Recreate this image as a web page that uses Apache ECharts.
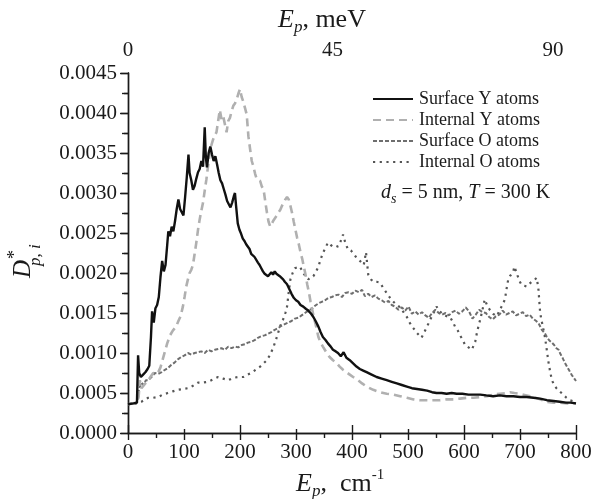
<!DOCTYPE html>
<html>
<head>
<meta charset="utf-8">
<script src="https://cdn.jsdelivr.net/npm/echarts@6/dist/echarts.min.js"></script>
<style>
  html, body { margin: 0; padding: 0; background: #fff; }
  #chart { width: 596px; height: 499px; }
</style>
</head>
<body>
<div id="chart"></div>
<script>
// Phonon energy grid (cm^-1) and partial densities of states D*_{p,i}

const surfYx = [0,10,16,18,20,23,27,31,35,38,41,43,46,49,52,55,58,61,64,67,70,72,75,78,81,84,87,90,93,96,99,102,105,108,110,113,116,119,122,125,128,131,134,137,139,141,144,147,150,153,156,159,162,165,168,171,174,177,180,183,186,189,191,193,196,199,202,205,208,211,214,217,220,223,226,229,232,235,238,241,244,247,250,253,256,259,262,265,268,271,274,277,280,284,288,292,296,300,304,308,313,318,322,327,331,335,340,344,348,353,357,362,366,371,375,380,385,390,396,402,408,414,420,426,435,444,453,462,471,480,489,498,507,516,525,534,543,551,560,569,578,587,597,608,618,629,640,652,664,676,688,700,712,724,736,748,760,771,782,790,800];
const surfYv = [0.00036,0.00037,0.00038,0.00097,0.00075,0.00070,0.00073,0.00076,0.00080,0.00084,0.00120,0.00152,0.00138,0.00156,0.00160,0.00170,0.00195,0.00215,0.00202,0.00210,0.00235,0.00252,0.00246,0.00258,0.00252,0.00265,0.00280,0.00292,0.00280,0.00276,0.00272,0.00295,0.00320,0.00348,0.00325,0.00316,0.00304,0.00309,0.00318,0.00326,0.00330,0.00340,0.00333,0.00382,0.00345,0.00332,0.00350,0.00358,0.00348,0.00340,0.00346,0.00336,0.00325,0.00316,0.00312,0.00305,0.00298,0.00290,0.00286,0.00282,0.00288,0.00296,0.00300,0.00284,0.00262,0.00254,0.00249,0.00243,0.00240,0.00236,0.00234,0.00230,0.00224,0.00226,0.00220,0.00218,0.00213,0.00210,0.00206,0.00202,0.00199,0.00197,0.00196,0.00198,0.00201,0.00198,0.00202,0.00199,0.00200,0.00196,0.00194,0.00192,0.00189,0.00186,0.00180,0.00174,0.00169,0.00166,0.00164,0.00160,0.00158,0.00155,0.00153,0.00149,0.00145,0.00140,0.00133,0.00126,0.00120,0.00116,0.00112,0.00108,0.00104,0.00102,0.00100,0.00096,0.00101,0.00094,0.00091,0.00087,0.00083,0.00080,0.00078,0.00076,0.00073,0.00070,0.00068,0.00066,0.00064,0.00062,0.00060,0.00058,0.00056,0.00055,0.00054,0.00053,0.00051,0.00050,0.00050,0.00049,0.00050,0.00049,0.00049,0.00048,0.00048,0.00048,0.00047,0.00046,0.00047,0.00046,0.00046,0.00045,0.00045,0.00044,0.00043,0.00041,0.00040,0.00039,0.00038,0.00038,0.00037];

const intYx = [0,16,19,21,24,27,31,36,40,45,50,54,58,62,66,70,75,80,86,90,94,98,101,104,107,110,113,116,119,122,125,128,131,134,137,140,143,146,149,152,155,158,161,164,167,170,173,176,179,182,185,188,191,194,197,200,203,206,209,212,215,218,221,224,227,230,233,236,239,242,245,248,251,254,257,260,263,266,269,272,275,278,281,284,287,290,293,296,299,302,305,308,311,314,317,320,323,326,329,332,335,340,344,348,354,360,366,372,378,384,390,396,402,411,418,426,438,450,462,474,486,498,510,521,533,545,557,569,581,593,605,617,629,641,652,664,676,682,690,700,712,724,736,748,760,771,785,800];
const intYv = [0.00036,0.00038,0.00045,0.00066,0.00056,0.00058,0.00062,0.00066,0.00070,0.00075,0.00074,0.00076,0.00082,0.00092,0.00102,0.00112,0.00122,0.00128,0.00133,0.00140,0.00146,0.00158,0.00170,0.00183,0.00192,0.00200,0.00204,0.00210,0.00224,0.00238,0.00254,0.00267,0.00278,0.00288,0.00303,0.00317,0.00334,0.00350,0.00360,0.00367,0.00372,0.00376,0.00390,0.00404,0.00392,0.00396,0.00386,0.00376,0.00390,0.00394,0.00402,0.00409,0.00412,0.00417,0.00424,0.00430,0.00420,0.00414,0.00406,0.00398,0.00371,0.00355,0.00340,0.00333,0.00324,0.00317,0.00319,0.00315,0.00308,0.00305,0.00290,0.00276,0.00264,0.00258,0.00262,0.00266,0.00269,0.00272,0.00276,0.00279,0.00284,0.00288,0.00292,0.00295,0.00292,0.00284,0.00275,0.00264,0.00254,0.00244,0.00236,0.00226,0.00218,0.00208,0.00198,0.00186,0.00176,0.00164,0.00154,0.00144,0.00136,0.00120,0.00113,0.00108,0.00101,0.00095,0.00091,0.00088,0.00083,0.00079,0.00076,0.00073,0.00070,0.00066,0.00062,0.00058,0.00054,0.00051,0.00049,0.00048,0.00046,0.00044,0.00042,0.00041,0.00041,0.00041,0.00041,0.00042,0.00042,0.00043,0.00044,0.00044,0.00045,0.00046,0.00048,0.00049,0.00050,0.00051,0.00050,0.00049,0.00047,0.00045,0.00042,0.00039,0.00038,0.00038,0.00037,0.00037];

const surfOx = [0,16,20,24,28,32,36,42,48,54,60,66,71,77,83,89,95,101,107,113,119,125,131,137,143,149,155,161,167,173,179,185,191,197,203,209,214,220,226,232,238,244,250,256,262,268,274,280,286,292,298,304,310,316,322,328,334,340,346,352,358,364,370,376,382,388,394,400,406,412,418,423,429,435,441,447,453,459,465,471,477,483,489,495,501,507,513,519,525,531,537,543,549,555,561,567,573,579,585,591,597,603,609,615,621,627,633,639,645,651,657,663,669,675,681,687,693,699,705,711,717,723,729,734,739,744,748,752,757,761,765,769,772,776,780,784,788,792,796,800];
const surfOv = [0.00036,0.00038,0.00056,0.00063,0.00060,0.00066,0.00066,0.00070,0.00075,0.00074,0.00076,0.00079,0.00081,0.00085,0.00088,0.00092,0.00095,0.00097,0.00100,0.00098,0.00100,0.00101,0.00102,0.00100,0.00104,0.00102,0.00104,0.00105,0.00106,0.00104,0.00108,0.00106,0.00108,0.00107,0.00110,0.00111,0.00113,0.00114,0.00116,0.00119,0.00121,0.00122,0.00124,0.00126,0.00129,0.00131,0.00134,0.00136,0.00138,0.00140,0.00143,0.00144,0.00147,0.00150,0.00153,0.00155,0.00159,0.00162,0.00164,0.00166,0.00169,0.00170,0.00172,0.00173,0.00170,0.00175,0.00176,0.00174,0.00178,0.00176,0.00179,0.00171,0.00174,0.00170,0.00172,0.00168,0.00166,0.00163,0.00165,0.00160,0.00158,0.00154,0.00157,0.00153,0.00158,0.00149,0.00152,0.00148,0.00151,0.00147,0.00144,0.00150,0.00154,0.00150,0.00148,0.00150,0.00147,0.00151,0.00153,0.00149,0.00152,0.00157,0.00152,0.00143,0.00148,0.00154,0.00151,0.00150,0.00145,0.00142,0.00146,0.00148,0.00153,0.00148,0.00150,0.00152,0.00147,0.00149,0.00151,0.00146,0.00148,0.00143,0.00140,0.00136,0.00129,0.00125,0.00120,0.00116,0.00113,0.00110,0.00106,0.00104,0.00099,0.00094,0.00088,0.00083,0.00078,0.00073,0.00069,0.00065];

const intOx = [0,16,20,24,30,36,45,54,62,71,80,89,98,107,116,125,134,143,152,161,170,179,188,197,206,214,222,230,236,242,248,254,260,264,268,272,277,281,284,287,290,294,298,302,307,310,313,317,322,327,331,336,340,344,348,353,357,362,366,371,375,380,384,388,393,398,402,408,413,417,421,425,429,434,438,444,450,456,462,468,474,480,486,492,498,503,507,512,516,520,524,529,534,538,542,547,551,557,563,569,575,580,584,589,593,598,602,606,610,614,617,620,623,626,629,633,637,641,646,652,658,663,667,670,673,676,679,682,685,688,690,693,695,699,703,708,712,716,721,725,730,733,736,739,742,745,747,749,751,754,757,761,765,771,777,783,789,794,800];
const intOv = [0.00036,0.00037,0.00038,0.00039,0.00042,0.00044,0.00044,0.00045,0.00048,0.00050,0.00052,0.00054,0.00055,0.00056,0.00059,0.00063,0.00063,0.00064,0.00067,0.00070,0.00068,0.00066,0.00069,0.00070,0.00070,0.00073,0.00076,0.00080,0.00083,0.00087,0.00091,0.00098,0.00108,0.00116,0.00125,0.00134,0.00142,0.00150,0.00158,0.00176,0.00192,0.00200,0.00206,0.00207,0.00208,0.00204,0.00200,0.00196,0.00192,0.00195,0.00196,0.00202,0.00208,0.00217,0.00225,0.00232,0.00238,0.00235,0.00233,0.00234,0.00233,0.00240,0.00248,0.00238,0.00229,0.00228,0.00225,0.00219,0.00216,0.00213,0.00210,0.00226,0.00198,0.00192,0.00189,0.00189,0.00188,0.00181,0.00175,0.00169,0.00164,0.00160,0.00157,0.00151,0.00145,0.00138,0.00133,0.00129,0.00125,0.00122,0.00119,0.00126,0.00133,0.00139,0.00145,0.00152,0.00158,0.00152,0.00148,0.00146,0.00145,0.00139,0.00133,0.00128,0.00122,0.00116,0.00110,0.00108,0.00106,0.00104,0.00104,0.00114,0.00125,0.00134,0.00142,0.00154,0.00167,0.00160,0.00154,0.00149,0.00146,0.00152,0.00158,0.00162,0.00167,0.00180,0.00192,0.00196,0.00198,0.00202,0.00208,0.00202,0.00198,0.00190,0.00185,0.00184,0.00183,0.00186,0.00189,0.00191,0.00194,0.00179,0.00150,0.00139,0.00129,0.00118,0.00108,0.00098,0.00088,0.00076,0.00066,0.00060,0.00056,0.00052,0.00048,0.00044,0.00041,0.00040,0.00039];

const seriesNames = ['Surface Y atoms', 'Internal Y atoms', 'Surface O atoms', 'Internal O atoms'];
const seriesColors = ['#111111', '#b0b0b0', '#6e6e6e', '#555555'];

// Tick labels
const yTickDecimals = 4;
const topLabelPos = [0, 365, 759];      // cm^-1 positions of the meV labels
const topLabelText = ['0', '45', '90']; // meV

const SERIF = '"Liberation Serif", "Times New Roman", serif';
const INK = '#1a1a1a';

function pairs(xs, vs) { return xs.map((x, i) => [x, vs[i]]); }

// Text measuring for hand-set sub/superscripts
const mctx = document.createElement('canvas').getContext('2d');
function fontStr(size, italic) { return (italic ? 'italic ' : '') + size + 'px ' + SERIF; }
function measure(font, t) { mctx.font = font; return mctx.measureText(t).width; }

// Build a group of text runs: each run {t, size, italic, dy, at}
function textRun(runs, x, y, rotation) {
  const children = [];
  let cx = 0;
  runs.forEach(r => {
    const font = fontStr(r.size, r.italic);
    const px = (r.at !== undefined) ? r.at : cx;
    children.push({
      type: 'text', x: px, y: r.dy || 0,
      style: { text: r.t, font: font, fill: INK, align: 'left', verticalAlign: 'middle' }
    });
    if (r.at === undefined) cx += measure(font, r.t);
  });
  return { type: 'group', x: x, y: y, rotation: rotation || 0, children: children, silent: true };
}

const chart = echarts.init(document.getElementById('chart'), null, { renderer: 'canvas' });

const axisLine = { show: true, lineStyle: { color: INK, width: 1.4 } };
const tickLabel = { fontFamily: SERIF, fontSize: 21, color: INK };

const lineDefs = [
  { width: 2.4, type: 'solid', z: 5 },
  { width: 2.6, type: [8, 5], z: 4 },
  { width: 2, type: [4, 2], z: 3 },
  { width: 2.2, type: [2.2, 4.5], z: 2 }
];
const seriesData = [
  pairs(surfYx, surfYv),
  pairs(intYx, intYv),
  pairs(surfOx, surfOv),
  pairs(intOx, intOv)
];

const option = {
  backgroundColor: '#ffffff',
  animation: false,
  color: seriesColors,
  grid: { left: 128, right: 20, top: 73, bottom: 66, containLabel: false },
  legend: {
    orient: 'vertical',
    left: 367, top: 85,
    itemWidth: 40, itemHeight: 14, itemGap: 3,
    data: seriesNames,
    itemStyle: { opacity: 0, borderWidth: 0 },
    textStyle: { fontFamily: SERIF, fontSize: 18, color: INK, padding: [0, 0, 0, 1] },
    selectedMode: false
  },
  xAxis: [
    {
      type: 'value', position: 'bottom', min: 0, max: 800, interval: 100,
      axisLine: axisLine,
      axisTick: { show: true, inside: false, length: 7, lineStyle: { color: INK, width: 1.4 } },
      minorTick: { show: true, splitNumber: 2, length: 5, lineStyle: { color: INK, width: 1.4 } },
      splitLine: { show: false },
      axisLabel: Object.assign({ margin: 9 }, tickLabel)
    },
    {
      type: 'value', position: 'top', min: 0, max: 800, interval: 200,
      axisLine: axisLine,
      axisTick: { show: true, inside: false, length: 8, lineStyle: { color: INK, width: 1.4 } },
      minorTick: { show: true, splitNumber: 2, length: 4, lineStyle: { color: INK, width: 1.4 } },
      splitLine: { show: false },
      axisLabel: Object.assign({
        margin: 12,
        customValues: topLabelPos,
        formatter: v => topLabelText[topLabelPos.indexOf(v)]
      }, tickLabel)
    }
  ],
  yAxis: [
    {
      type: 'value', position: 'left', min: 0, max: 0.0045, interval: 0.0005,
      axisLine: axisLine,
      axisTick: { show: true, inside: false, length: 8, lineStyle: { color: INK, width: 1.4 } },
      minorTick: { show: true, splitNumber: 2, length: 4, lineStyle: { color: INK, width: 1.4 } },
      splitLine: { show: false },
      axisLabel: Object.assign({ margin: 11, formatter: v => v.toFixed(yTickDecimals) }, tickLabel)
    },
    {
      type: 'value', position: 'right', min: 0, max: 0.0045, interval: 0.0005,
      axisLine: axisLine,
      axisTick: { show: true, inside: true, length: 7, lineStyle: { color: INK, width: 1.4 } },
      minorTick: { show: true, splitNumber: 2, length: 6, lineStyle: { color: INK, width: 1.4 } },
      splitLine: { show: false },
      axisLabel: { show: false }
    }
  ],
  series: seriesNames.map((name, i) => ({
    name: name, type: 'line', symbol: 'none', showSymbol: false, z: lineDefs[i].z,
    data: seriesData[i],
    itemStyle: { color: seriesColors[i] },
    lineStyle: { color: seriesColors[i], width: lineDefs[i].width, type: lineDefs[i].type }
  })),
  graphic: [
    // top axis title: E_p, meV
    textRun([
      { t: 'E', size: 26, italic: true },
      { t: 'p', size: 17, italic: true, dy: 8 },
      { t: ', meV', size: 26 }
    ], 278, 20),
    // bottom axis title: E_p, cm^-1
    textRun([
      { t: 'E', size: 26, italic: true },
      { t: 'p', size: 17, italic: true, dy: 8 },
      { t: ',  cm', size: 26 },
      { t: '-1', size: 15, dy: -9 }
    ], 296, 484),
    // left axis title: D*_{p,i}
    textRun([
      { t: 'D', size: 25, italic: true },
      { t: '*', size: 18, dy: -8, at: 19 },
      { t: 'p, i', size: 17, italic: true, dy: 13, at: 12 }
    ], 23, 278, Math.PI / 2),
    // conditions note
    textRun([
      { t: 'd', size: 20, italic: true },
      { t: 's', size: 14, italic: true, dy: 6 },
      { t: ' = 5 nm, ', size: 20 },
      { t: 'T', size: 20, italic: true },
      { t: ' = 300 K', size: 20 }
    ], 381, 193)
  ]
};

chart.setOption(option);
</script>
</body>
</html>
